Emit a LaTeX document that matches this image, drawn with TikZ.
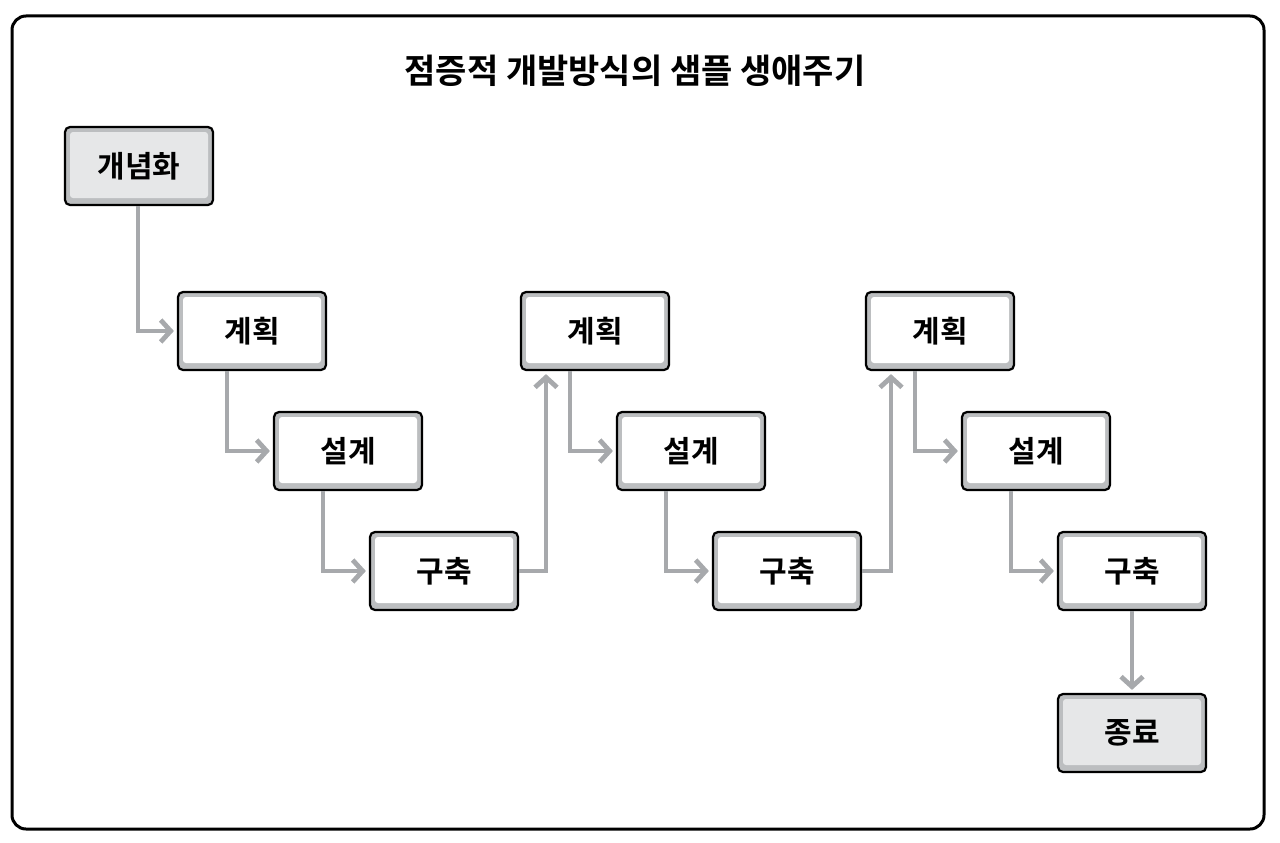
\documentclass[tikz,border=0pt]{standalone}
\usepackage{fontspec}
\setmainfont{Noto Sans CJK KR}[BoldFont={Noto Sans CJK KR Bold}]
\usetikzlibrary{arrows.meta}
\definecolor{band}{HTML}{BCBEC0}
\definecolor{lgray}{HTML}{E6E7E8}
\definecolor{conncol}{HTML}{A7A9AC}
\tikzset{
  boxbase/.style={draw=black, line width=2.2pt, rounded corners=5pt, fill=band,
    minimum width=148pt, minimum height=78pt, inner sep=0pt,
    font=\fontsize{30}{33}\selectfont\bfseries},
  phase/.style={boxbase, path picture={\fill[white, rounded corners=3pt]
      ([shift={(5pt,7pt)}]path picture bounding box.south west) rectangle
      ([shift={(-5pt,-5pt)}]path picture bounding box.north east);}},
  term/.style={boxbase, path picture={\fill[lgray, rounded corners=3pt]
      ([shift={(5pt,7pt)}]path picture bounding box.south west) rectangle
      ([shift={(-5pt,-5pt)}]path picture bounding box.north east);}},
  conn/.style={draw=conncol, line width=4.8pt,
    -{Straight Barb[length=10pt,width=22pt,line width=4.8pt]}, shorten >=3pt}
}
\begin{document}
\begin{tikzpicture}[x=1pt,y=-1pt]
\useasboundingbox (0,0) rectangle (1280,843);
\draw[line width=3pt, rounded corners=14pt] (12,16) rectangle (1264,829);
\node[font=\fontsize{34}{38}\selectfont\bfseries] (title) at (635,71) {점증적 개발방식의 샘플 생애주기};

\node[term]  (start) at (139,166) {개념화};
\node[phase] (p1) at (252,331) {계획};
\node[phase] (d1) at (348,451) {설계};
\node[phase] (b1) at (444,571) {구축};
\node[phase] (p2) at (595,331) {계획};
\node[phase] (d2) at (691,451) {설계};
\node[phase] (b2) at (787,571) {구축};
\node[phase] (p3) at (940,331) {계획};
\node[phase] (d3) at (1036,451) {설계};
\node[phase] (b3) at (1132,571) {구축};
\node[term]  (end) at (1132,733) {종료};

\draw[conn] ([xshift=-1pt]start.south) |- (p1.west);
\draw[conn] ([xshift=-25pt]p1.south) |- (d1.west);
\draw[conn] ([xshift=-25pt]d1.south) |- (b1.west);
\draw[conn] (b1.east) -| ([xshift=-49pt]p2.south);
\draw[conn] ([xshift=-25pt]p2.south) |- (d2.west);
\draw[conn] ([xshift=-25pt]d2.south) |- (b2.west);
\draw[conn] (b2.east) -| ([xshift=-49pt]p3.south);
\draw[conn] ([xshift=-25pt]p3.south) |- (d3.west);
\draw[conn] ([xshift=-25pt]d3.south) |- (b3.west);
\draw[conn] (b3.south) -- (end.north);
\end{tikzpicture}
\end{document}
